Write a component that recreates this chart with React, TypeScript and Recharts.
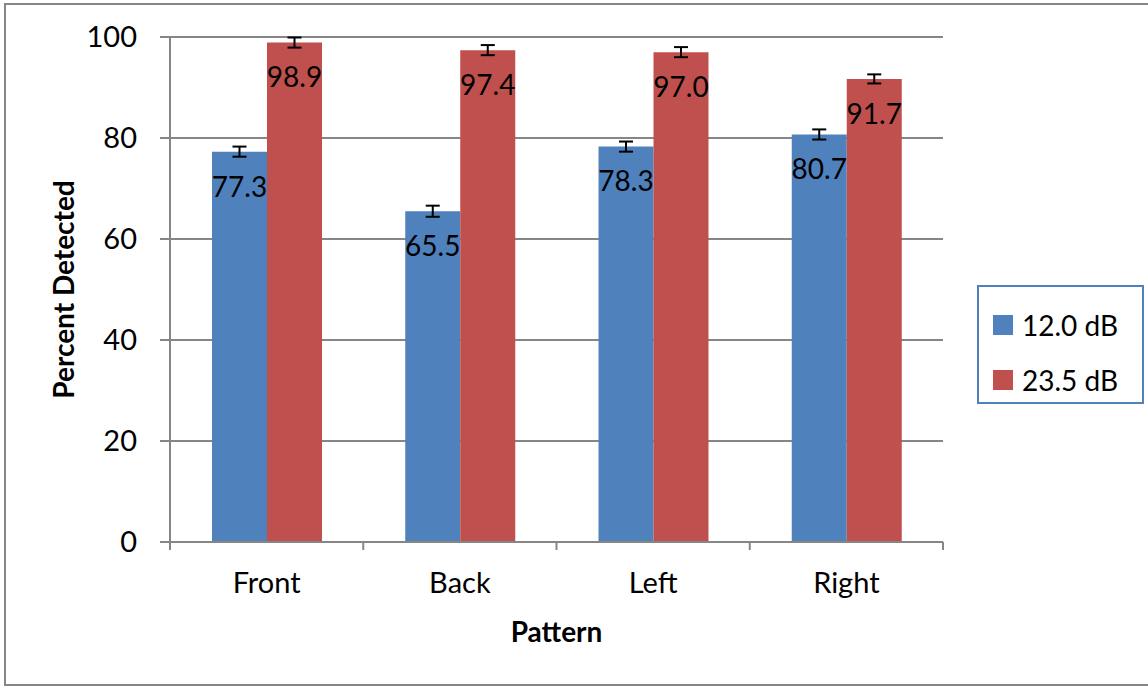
import React from 'react'
import { BarChart, Bar, XAxis, YAxis, CartesianGrid, Legend, LabelList, ErrorBar, Label } from 'recharts'

const patterns = ['Front', 'Back', 'Left', 'Right']
const low = [77.3, 65.5, 78.3, 80.7]
const high = [98.9, 97.4, 97.0, 91.7]
const lowErr = [1.0, 1.1, 1.0, 1.0]
const highErr = [1.0, 1.0, 1.0, 0.9]
const yTicks = [0, 20, 40, 60, 80, 100]

const data = patterns.map((name, i) => ({
  name,
  low: low[i],
  high: high[i],
  lowErr: lowErr[i],
  highErr: highErr[i],
}))

const FONT = 'Lato, "Open Sans", sans-serif'
const GRAY = '#868686'
const BLUE = '#4F81BD'
const RED = '#C0504D'

if (typeof document !== 'undefined') document.body.style.margin = '0'

const XTick = (props: any) => {
  const { x, y, payload, index, visibleTicksCount } = props
  const half = payload.offset ?? 0
  const isLast = index === visibleTicksCount - 1
  return (
    <g>
      <line x1={x - half} x2={x - half} y1={y} y2={y + 8} stroke={GRAY} strokeWidth={2} />
      {isLast && <line x1={x + half} x2={x + half} y1={y} y2={y + 8} stroke={GRAY} strokeWidth={2} />}
      <text x={x} y={y + 51} textAnchor="middle" fontSize={29} fontFamily={FONT} fill="#000">
        {payload.value}
      </text>
    </g>
  )
}

const LegendBox = (props: any) => {
  const items = props.payload || []
  return (
    <div style={{ paddingTop: 10 }}>
      {items.map((item: any) => (
        <div key={item.value} style={{ display: 'flex', alignItems: 'center', height: 55, paddingLeft: 14 }}>
          <span style={{ display: 'inline-block', width: 20, height: 20, background: item.color, marginRight: 9 }} />
          <span style={{ fontFamily: FONT, fontSize: 28, color: '#000' }}>{item.value}</span>
        </div>
      ))}
    </div>
  )
}

export default function App() {
  return (
    <div style={{ position: 'relative', width: 1148, height: 688, background: '#fff' }}>
      <div
        style={{
          position: 'absolute',
          left: 4,
          top: 3,
          width: 1148,
          height: 683,
          border: `2px solid ${GRAY}`,
          boxSizing: 'border-box',
          pointerEvents: 'none',
        }}
      />
      <BarChart
        width={1148}
        height={688}
        data={data}
        margin={{ top: 37, right: 205, bottom: 0, left: 0 }}
        barSize={55}
        barGap={0}
      >
        <CartesianGrid vertical={false} stroke={GRAY} strokeWidth={2} />
        <XAxis
          dataKey="name"
          height={146}
          axisLine={{ stroke: GRAY, strokeWidth: 2 }}
          tickLine={false}
          tickSize={0}
          tickMargin={0}
          tick={<XTick />}
          interval={0}
        >
          <Label
            content={({ viewBox }: any) => (
              <text
                x={viewBox.x + viewBox.width / 2}
                y={viewBox.y + 100}
                textAnchor="middle"
                fontSize={28}
                fontWeight="bold"
                fontFamily={FONT}
                fill="#000"
              >
                Pattern
              </text>
            )}
          />
        </XAxis>
        <YAxis
          width={170}
          domain={[0, 100]}
          ticks={yTicks}
          axisLine={{ stroke: GRAY, strokeWidth: 2 }}
          tickLine={{ stroke: GRAY, strokeWidth: 2 }}
          tickSize={10}
          tickMargin={23}
          tick={{ fontSize: 29, fontFamily: FONT, fill: '#000' }}
        >
          <Label
            content={({ viewBox }: any) => {
              const cx = viewBox.x + 63
              const cy = viewBox.y + viewBox.height / 2
              return (
                <text
                  x={cx}
                  y={cy}
                  transform={`rotate(-90 ${cx} ${cy})`}
                  textAnchor="middle"
                  dominantBaseline="central"
                  fontSize={28}
                  fontWeight="bold"
                  fontFamily={FONT}
                  fill="#000"
                >
                  Percent Detected
                </text>
              )
            }}
          />
        </YAxis>
        <Legend
          layout="horizontal"
          verticalAlign="middle"
          align="center"
          content={<LegendBox />}
          wrapperStyle={{
            left: 977,
            top: 285,
            width: 167,
            height: 119,
            border: `2px solid ${BLUE}`,
            boxSizing: 'border-box',
            background: '#fff',
          }}
        />
        <Bar dataKey="low" name="12.0 dB" fill={BLUE} isAnimationActive={false}>
          <ErrorBar dataKey="lowErr" width={7} stroke="#000" strokeWidth={2} direction="y" />
          <LabelList
            dataKey="low"
            position="insideTop"
            offset={25}
            formatter={(v: any) => Number(v).toFixed(1)}
            style={{ fontSize: 28, fontFamily: FONT, fill: '#000' }}
          />
        </Bar>
        <Bar dataKey="high" name="23.5 dB" fill={RED} isAnimationActive={false}>
          <ErrorBar dataKey="highErr" width={7} stroke="#000" strokeWidth={2} direction="y" />
          <LabelList
            dataKey="high"
            position="insideTop"
            offset={25}
            formatter={(v: any) => Number(v).toFixed(1)}
            style={{ fontSize: 28, fontFamily: FONT, fill: '#000' }}
          />
        </Bar>
      </BarChart>
    </div>
  )
}
